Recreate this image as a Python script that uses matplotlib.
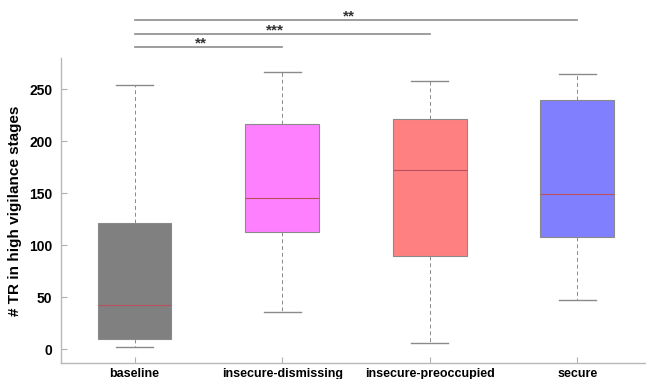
"""
Box plot of # TR in high vigilance stages per attachment group, with significance bars.
"""

import matplotlib
matplotlib.use('Agg')
import matplotlib.pyplot as plt

plt.rcParams['font.family'] = ['Liberation Sans', 'DejaVu Sans']
plt.rcParams['font.weight'] = 'bold'

groups = ['baseline', 'insecure-dismissing', 'insecure-preoccupied', 'secure']
box_colors = ['#808080', '#ff80ff', '#ff8080', '#8080ff']
whislo = [2, 36, 6, 47]
q1 = [10, 113, 90, 108]
med = [43, 145, 172, 149]
q3 = [121, 217, 221, 240]
whishi = [254, 267, 258, 265]

# significance comparisons: (group a, group b, label)
comparisons = [(0, 1, '**'), (0, 2, '***'), (0, 3, '**')]

fig = plt.figure(figsize=(6.46, 3.79), dpi=100)
ax = fig.add_axes([0.094, 0.041, 0.906, 0.806])

stats = []
for indg, name in enumerate(groups):
    stats.append(dict(label=name, whislo=whislo[indg], q1=q1[indg], med=med[indg],
                      q3=q3[indg], whishi=whishi[indg], fliers=[]))

edge = '#8a8a8a'
bp = ax.bxp(stats, positions=range(1, len(groups) + 1), widths=0.5, patch_artist=True,
            showfliers=False,
            boxprops=dict(edgecolor=edge, linewidth=0.8),
            medianprops=dict(color='#b85060', linewidth=0.8),
            whiskerprops=dict(color=edge, linewidth=0.7, linestyle=(0, (4, 3))),
            capprops=dict(color=edge, linewidth=1.0))
for patch, col in zip(bp['boxes'], box_colors):
    patch.set_facecolor(col)

ax.set_xlim(0.5, 4.465)
ax.set_ylim(-13.5, 280)
ax.set_yticks([0, 50, 100, 150, 200, 250])
ax.set_xticks(range(1, len(groups) + 1))
ax.set_xticklabels(groups, fontsize=9, fontweight='bold')
ax.tick_params(axis='both', direction='in', length=4, color='#b0b0b0')
ax.tick_params(axis='y', pad=6, labelsize=10)
ax.tick_params(axis='x', pad=3, labelsize=9)
ax.set_ylabel('# TR in high vigilance stages', fontsize=11, fontweight='bold', labelpad=5)
for side in ['top', 'right']:
    ax.spines[side].set_visible(False)
for side in ['left', 'bottom']:
    ax.spines[side].set_color('#b8b8b8')
    ax.spines[side].set_linewidth(1.0)

# significance bars above the axes
bar_y = [291, 303, 316.5]
for (ga, gb, lab), yy in zip(comparisons, bar_y):
    ax.plot([ga + 1, gb + 1], [yy, yy], color='#8c8c8c', lw=1.2, clip_on=False)
    ax.text((ga + gb) / 2 + 1 - 0.05, yy - 0.5, lab, ha='center', va='baseline',
            fontsize=11, fontweight='bold', color='#333333', clip_on=False)

fig.savefig('out.png', dpi=100)
